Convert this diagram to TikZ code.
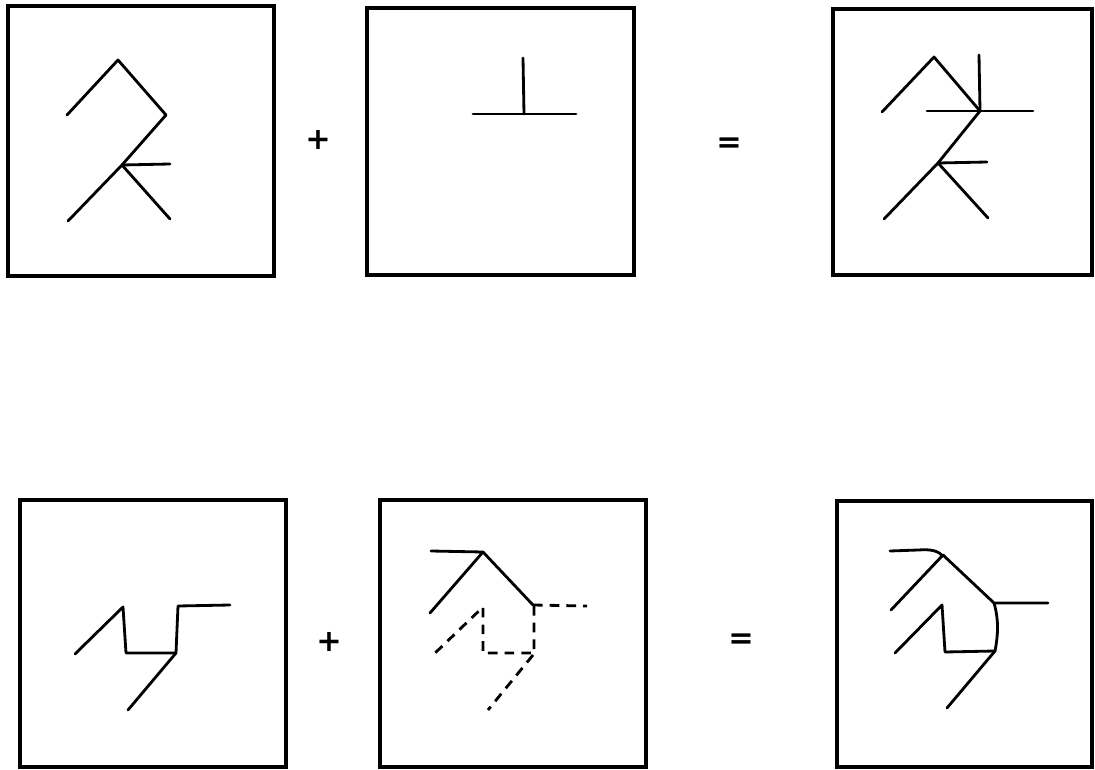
\documentclass[tikz,border=0pt]{standalone}
\usepackage{fontspec}
\usepackage{tikz}
\usetikzlibrary{positioning}
\newfontfamily\signfont{DejaVu Sans}

\begin{document}
\begin{tikzpicture}[x=0.02cm,y=-0.02cm,
  frame/.style={line width=2.3pt},
  stroke/.style={line width=1.6pt, line join=round, line cap=round},
  dashline/.style={stroke, line cap=butt, dash pattern=on 5.5pt off 4pt},
  opsign/.style={font=\signfont\bfseries\LARGE, inner sep=0pt}]
\useasboundingbox (0,0) rectangle (1095,770);

% upper row: frames
\draw[frame] (8,6) rectangle (274,276);
\draw[frame] (367,8) rectangle (634,275);
\draw[frame] (833,9) rectangle (1092,275);

% upper row: first figure
\draw[stroke] (67,115) -- (118,60) -- (166,115) -- (122,165) -- (68,221);
\draw[stroke] (122,165) -- (170,219);
\draw[stroke] (122,165) -- (170,164);

% upper row: second figure
\draw[stroke] (523,58) -- (524,114);
\draw[stroke] (473,114) -- (576,114);

% upper row: result
\draw[stroke] (882,112) -- (934,57) -- (980,111) -- (938,163) -- (884,219);
\draw[stroke] (938,163) -- (988,218);
\draw[stroke] (938,163) -- (987,162);
\draw[stroke] (979,55) -- (980,111);
\draw[stroke] (927,111) -- (1033,111);

\node[opsign] (plusA) at (318,140) {+};
\node[opsign] (eqA) at (729,145) {=};

% lower row: frames
\draw[frame] (20,500) rectangle (286,767);
\draw[frame] (380,500) rectangle (646,767);
\draw[frame] (837,501) rectangle (1092,767);

% lower row: first figure
\draw[stroke] (75,654) -- (123,607) -- (126,653) -- (176,653) -- (178,606) -- (230,605);
\draw[stroke] (176,653) -- (128,710);

% lower row: second figure (solid part)
\draw[stroke] (431,551) -- (483,552) -- (430,613);
\draw[stroke] (483,552) -- (533,605);
% lower row: second figure (dashed part)
\draw[dashline] (533,605) -- (587,606);
\draw[dashline] (534,606) -- (534,653) -- (483,653) -- (483,607) -- (433,655);
\draw[dashline] (533,655) -- (488,710);

% lower row: result
\draw[stroke] (890,551) -- (918,550) .. controls (932,549) and (938,551) .. (943,556);
\draw[stroke] (943,555) -- (891,610);
\draw[stroke] (943,555) -- (994,603) -- (1048,603);
\draw[stroke] (994,603) .. controls (999,620) and (998,636) .. (995,651);
\draw[stroke] (995,651) -- (945,652) -- (942,605) -- (895,653);
\draw[stroke] (995,651) -- (947,708);

\node[opsign] (plusB) at (329,642) {+};
\node[opsign] (eqB) at (741,641) {=};
\end{tikzpicture}
\end{document}
